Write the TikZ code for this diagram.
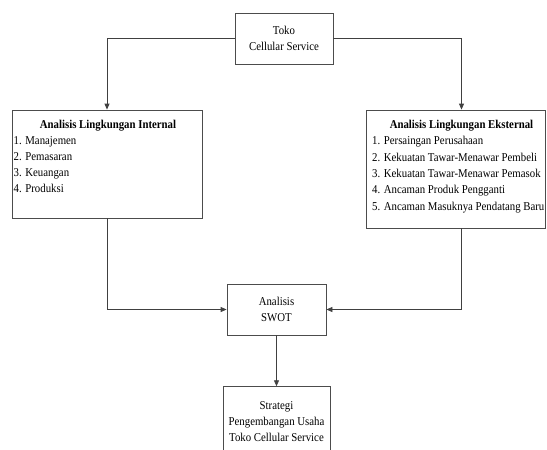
\documentclass[tikz,border=0pt]{standalone}
\usepackage{fontspec}
\setmainfont{Liberation Serif}[FakeStretch=0.9]
\usetikzlibrary{arrows.meta,shadows}

\tikzset{
    box/.style={draw=black!70, line width=0.8pt, fill=white, align=center, inner sep=0pt,
        drop shadow={shadow xshift=1pt, shadow yshift=-1pt, opacity=0.25}},
    txt/.style={font=\fontsize{12pt}{16pt}\selectfont, inner sep=0pt},
    judul/.style={txt, anchor=base, font=\fontsize{12pt}{16pt}\selectfont\bfseries},
    link/.style={draw=black!75, line width=0.8pt, -{Triangle[length=6pt,width=5pt]}}
}

\begin{document}
\begin{tikzpicture}[x=1pt, y=-1pt]
        \useasboundingbox (0,0) rectangle (547,450);

        % kotak utama
        \node[box, txt, minimum width=98pt, minimum height=51pt] (toko) at (284,38.5) {Toko\\Cellular Service};
        \node[box, minimum width=190pt, minimum height=108pt] (int) at (107,164) {};
        \node[box, minimum width=179pt, minimum height=118pt] (ext) at (455.5,169) {};
        \node[box, txt, minimum width=99pt, minimum height=51pt] (swot) at (276.5,309.5) {Analisis\\SWOT};
        \node[box, txt, minimum width=107pt, minimum height=70pt] (strat) at (276.5,421.7) {Strategi\\Pengembangan Usaha\\Toko Cellular Service};

        % isi lingkungan internal
        \node[judul] (intjudul) at (108,128.5) {Analisis Lingkungan Internal};
        \foreach \i/\t in {1/Manajemen, 2/Pemasaran, 3/Keuangan, 4/Produksi}
            \node[txt, anchor=base west] (int\i) at (13.5,128+16*\i) {\i. \t};

        % isi lingkungan eksternal
        \node[judul] (extjudul) at (461.5,128) {Analisis Lingkungan Eksternal};
        \foreach \i/\t in {1/Persaingan Perusahaan, 2/Kekuatan Tawar-Menawar Pembeli, 3/Kekuatan Tawar-Menawar Pemasok, 4/Ancaman Produk Pengganti, 5/Ancaman Masuknya Pendatang Baru}
            \node[txt, anchor=base west] (ext\i) at (372,128.5+16.3*\i) {\i. \t};

        % panah
        \draw[link] (toko.west) -| (int.north);
        \draw[link] (toko.east) -| ([xshift=6pt]ext.north);
        \draw[link] (int.south) |- (swot.west);
        \draw[link] ([xshift=6pt]ext.south) |- (swot.east);
        \draw[link] (swot) -- (strat);
    \end{tikzpicture}
\end{document}
